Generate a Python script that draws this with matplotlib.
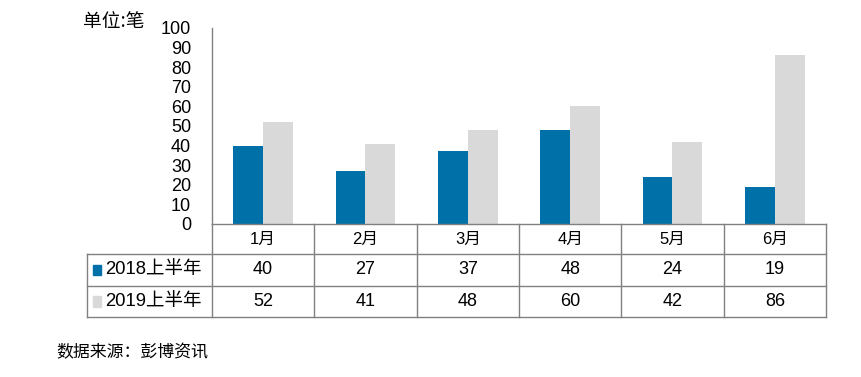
import numpy as np
import matplotlib.pyplot as plt
import matplotlib.transforms as mtransforms
from matplotlib.patches import Rectangle

plt.rcParams['font.family'] = ['Liberation Sans', 'Noto Sans CJK SC', 'DejaVu Sans']

months = ['1月', '2月', '3月', '4月', '5月', '6月']
series_names = ['2018上半年', '2019上半年']
h1_2018 = [40, 27, 37, 48, 24, 19]
h1_2019 = [52, 41, 48, 60, 42, 86]
colors = ['#0070A8', '#D9D9D9']
yticks = list(range(0, 101, 10))

fig = plt.figure(figsize=(8.62, 3.77), dpi=100)
ax = fig.add_axes([212 / 862, 153 / 377, 614 / 862, 196 / 377])

x = np.arange(len(months))
w = 0.29
ax.bar(x - w / 2, h1_2018, w, color=colors[0])
ax.bar(x + w / 2, h1_2019, w, color=colors[1])

ax.set_xlim(-0.5, len(months) - 0.5)
ax.set_ylim(0, 100)
ax.set_yticks(yticks)
ax.set_yticklabels([str(t) for t in yticks], fontsize=13)
ax.tick_params(axis='y', length=0, pad=15)
ax.set_xticks([])
for s in ['top', 'right']:
    ax.spines[s].set_visible(False)
for s in ['left', 'bottom']:
    ax.spines[s].set_color('#808080')
    ax.spines[s].set_linewidth(1.0)

# data table under the chart
trans = mtransforms.blended_transform_factory(ax.transData, ax.transAxes)
lc = '#808080'
y_rows = [0, -0.153, -0.316, -0.474]
x_lab = -0.2036
n = len(months)

def hline(y, x0):
    ax.plot([x0, 1], [y, y], transform=ax.transAxes, color=lc, lw=1.0, clip_on=False)

def vline(xa, y0, y1):
    ax.plot([xa, xa], [y0, y1], transform=ax.transAxes, color=lc, lw=1.0, clip_on=False)

hline(y_rows[1], x_lab)
hline(y_rows[2], x_lab)
hline(y_rows[3], x_lab)
vline(x_lab, y_rows[1], y_rows[3])
for i in range(n + 1):
    vline(i / n, y_rows[0], y_rows[3])

for i, m in enumerate(months):
    ax.text(i, (y_rows[0] + y_rows[1]) / 2, m, transform=trans, ha='center',
            va='center', fontsize=12)
for r, vals in enumerate([h1_2018, h1_2019]):
    yc = (y_rows[r + 1] + y_rows[r + 2]) / 2
    for i, v in enumerate(vals):
        ax.text(i, yc, str(v), transform=trans, ha='center', va='center', fontsize=13)
    ax.add_patch(Rectangle((x_lab + 0.01, yc - 0.027), 0.013, 0.054,
                           transform=ax.transAxes, color=colors[r], clip_on=False))
    ax.text(x_lab + 0.03, yc, series_names[r], transform=ax.transAxes,
            ha='left', va='center', fontsize=13.3)

fig.text(83 / 862, 1 - 22 / 377, '单位:笔', fontsize=13.5, ha='left', va='center',
         family=['Noto Sans CJK SC'], weight='medium')
fig.text(56 / 862, 1 - 352 / 377, '数据来源：彭博资讯', fontsize=12.2, ha='left',
         va='center', family=['Noto Sans CJK SC'])

fig.savefig('out.png', dpi=100)
